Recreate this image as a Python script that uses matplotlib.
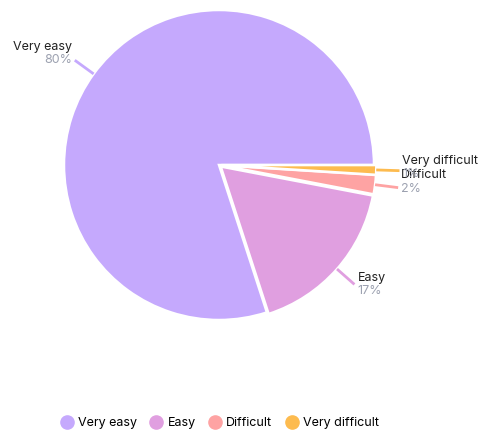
import numpy as np
import matplotlib.pyplot as plt
from matplotlib.lines import Line2D

plt.rcParams['font.family'] = ['Inter', 'DejaVu Sans']

labels = ["Very easy", "Easy", "Difficult", "Very difficult"]
values = [80, 17, 2, 1]
colors = ["#c5a9fd", "#e09fe0", "#fea3a3", "#fdbb4f"]
pct_color = "#9ca1b0"

fig = plt.figure(figsize=(4.84, 4.33), dpi=100)
ax = fig.add_axes([64 / 484, 1 - 320 / 433, 310 / 484, 310 / 433])

wedges, _ = ax.pie(values, colors=colors, startangle=0, counterclock=True,
                   radius=1, explode=[0, 0.015, 0.015, 0.015],
                   wedgeprops=dict(edgecolor="white", linewidth=1.8))
ax.set_xlim(-1, 1)
ax.set_ylim(-1, 1)
ax.set_aspect("equal")
ax.axis("off")

# leader lines + two-line labels (name / percent)
name_dy = [-13, -6, -13, -10]
pct_dy = [0, 7, 1, 3]
for w, lab, v, c, ndy, pdy in zip(wedges, labels, values, colors, name_dy, pct_dy):
    ang = np.deg2rad((w.theta1 + w.theta2) / 2)
    cx, cy = w.center
    x0, y0 = cx + np.cos(ang) * 1.0, cy + np.sin(ang) * 1.0
    x1, y1 = cx + np.cos(ang) * 1.15, cy + np.sin(ang) * 1.15
    ax.plot([x0, x1], [y0, y1], color=c, lw=2, solid_capstyle="butt", clip_on=False)
    right = np.cos(ang) > 0
    ha = "left" if right else "right"
    dx = 3 / 155 if right else -3 / 155
    ax.text(x1 + dx, y1 - ndy / 155, lab, ha=ha, va="center", fontsize=9,
            color="#222222")
    ax.text(x1 + dx, y1 - pdy / 155, f"{v}%", ha=ha, va="center", fontsize=9,
            color=pct_color)

handles = [Line2D([], [], marker="o", linestyle="none", markersize=9.5,
                  markerfacecolor=c, markeredgecolor=c) for c in colors]
fig.legend(handles, labels, loc="center", bbox_to_anchor=(0.452, 1 - 423 / 433),
           ncol=4, frameon=False, fontsize=9, handletextpad=0.25,
           columnspacing=0.9, handlelength=1.3)

fig.savefig("out.png", dpi=100)
